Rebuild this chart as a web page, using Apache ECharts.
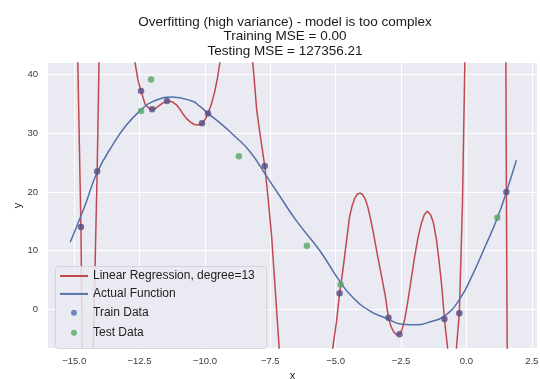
<!DOCTYPE html>
<html>
<head>
<meta charset="utf-8">
<title>Overfitting</title>
<script src="https://cdn.jsdelivr.net/npm/echarts@6/dist/echarts.min.js"></script>
<style>
  body { margin: 0; background: #fff; }
  #main { width: 540px; height: 379px; }
</style>
</head>
<body>
<div id="main"></div>
<script>
// values
var trainX = [-14.74, -14.12, -12.44, -12.02, -11.45, -10.11, -9.88, -7.71, -4.85, -2.98, -2.56, -0.84, -0.27, 1.53];
var trainY = [14.0, 23.5, 37.2, 34.1, 35.5, 31.7, 33.4, 24.4, 2.7, -1.5, -4.3, -1.7, -0.7, 20.0];

var testX = [-12.06, -12.44, -8.70, -6.10, -4.81, 1.18];
var testY = [39.2, 33.8, 26.1, 10.8, 4.2, 15.6];

// actual function
var trueX = [-15.15, -14.6, -14.12, -13.5, -13.0, -12.44, -12.0, -11.26, -10.5, -10.19, -9.88, -9.4, -8.93, -8.28, -7.63, -7.14, -6.49, -5.61, -4.85, -4.35, -3.7, -3.05, -2.44, -1.9, -1.41, -0.84, -0.27, 0.23, 0.7, 1.18, 1.53, 1.91];
var trueY = [11.4, 17.5, 23.3, 28.2, 31.4, 34.0, 35.4, 36.2, 35.5, 34.6, 33.4, 31.7, 29.8, 26.9, 22.6, 19.3, 15.0, 10.0, 4.8, 2.0, -0.3, -1.6, -2.6, -2.7, -2.2, -1.2, 1.6, 5.8, 10.5, 15.5, 20.0, 25.4];

// degree-13 fit (values past the frame are clipped)
var fitX = [-15.0, -14.86, -14.74, -14.69, -14.5, -14.27, -14.12, -14.05, -13.4,
  -12.67, -12.56, -12.44, -12.29, -12.15, -12.02, -11.9, -11.79, -11.6, -11.45, -11.26, -11.1, -10.95, -10.84, -10.7, -10.55, -10.4, -10.25, -10.11, -10.0, -9.88, -9.75, -9.62, -9.52, -9.43,
  -8.8, -8.17, -8.1, -8.02, -7.88, -7.71, -7.58, -7.45, -7.16, -6.1,
  -5.11, -4.96, -4.85, -4.75, -4.66, -4.56, -4.47, -4.37, -4.27, -4.17, -4.08, -3.98, -3.88, -3.78, -3.68, -3.57, -3.46, -3.35, -3.24, -3.1, -2.98, -2.88, -2.78, -2.67, -2.56, -2.47, -2.36, -2.25, -2.12, -1.98, -1.85, -1.72, -1.61, -1.49, -1.37, -1.26, -1.15, -1.05, -0.94, -0.84, -0.72,
  -0.55, -0.38, -0.27, -0.15, -0.06, 0.7, 1.45, 1.51, 1.53, 1.56, 1.7];
var fitY = [110, 42, 14.0, -8, -60, -6.6, 23.5, 42, 120,
  42, 39.1, 37.2, 35.0, 34.3, 34.1, 34.2, 34.6, 35.2, 35.5, 35.4, 34.9, 34.1, 33.3, 32.5, 31.9, 31.5, 31.4, 31.7, 32.3, 33.4, 35.0, 37.2, 39.4, 42,
  70, 42, 38.5, 34.0, 29.5, 24.4, 18.8, 12.5, -6.6, -60,
  -6.6, -1.9, 2.7, 5.8, 8.9, 12.5, 15.7, 17.6, 18.9, 19.6, 19.8, 19.6, 18.9, 17.6, 15.7, 13.3, 10.6, 8.0, 5.5, 2.2, -1.5, -3.0, -3.9, -4.4, -4.3, -3.6, -1.8, 1.0, 4.8, 8.9, 12.2, 14.7, 16.1, 16.7, 16.1, 14.7, 12.0, 8.4, 3.8, -1.7, -6.6,
  -40, -6.6, -0.7, 18, 42, 200, 200, 42, 20.0, -6.6, -80];

var xTicks = [-15, -12.5, -10, -7.5, -5, -2.5, 0, 2.5];
var yTicks = [0, 10, 20, 30, 40];

function pairs(xs, ys) {
  return xs.map(function (x, i) { return [x, ys[i]]; });
}
function fmtX(v) { return v.toFixed(1).replace('-', '\u2212'); }
function fmtY(v) { return String(v).replace('-', '\u2212'); }

var font = 'Liberation Sans, Arial, sans-serif';
// small dot centred in a 28x14 box (the lone moves fix the box size)
var dotIcon = 'path://M0,0M28,14M11,7a3,3 0 1,0 6,0a3,3 0 1,0 -6,0Z';

var chart = echarts.init(document.getElementById('main'), null, { renderer: 'canvas' });

chart.setOption({
  animation: false,
  backgroundColor: '#ffffff',
  title: {
    text: 'Overfitting (high variance) - model is too complex\nTraining MSE = 0.00\nTesting MSE = 127356.21',
    left: 285,
    top: 15,
    textAlign: 'center',
    padding: 0,
    textStyle: { fontFamily: font, fontSize: 13.5, fontWeight: 'normal', color: '#1a1a1a', lineHeight: 14.5 }
  },
  grid: {
    left: 48, right: 3, top: 63, bottom: 31,
    outerBoundsMode: 'none',
    containLabel: false,
    show: true, backgroundColor: '#eaeaf2', borderWidth: 0
  },
  graphic: [{
    type: 'rect',
    left: 55, top: 266, z: 5,
    shape: { width: 211, height: 82, r: 3 },
    style: { fill: 'rgba(234,234,242,0.85)', stroke: '#d4d4dc', lineWidth: 1 }
  }],
  legend: {
    data: [
      { name: 'Linear Regression, degree=13', itemStyle: { opacity: 0 } },
      { name: 'Actual Function', itemStyle: { opacity: 0 } },
      { name: 'Train Data', icon: dotIcon, itemStyle: { color: '#4c72b0' } },
      { name: 'Test Data', icon: dotIcon, itemStyle: { color: '#55a868' } }
    ],
    orient: 'vertical',
    left: 59, top: 270, z: 6,
    padding: 0,
    itemWidth: 28, itemHeight: 14, itemGap: 5.9,
    textStyle: { fontFamily: font, fontSize: 12, color: '#222' }
  },
  xAxis: {
    type: 'value',
    min: -16.0, max: 2.7,
    name: 'x', nameLocation: 'middle', nameGap: 21,
    nameTextStyle: { fontFamily: font, fontSize: 11, color: '#222' },
    axisLine: { show: false },
    axisTick: { show: false, customValues: xTicks },
    axisLabel: { customValues: xTicks, formatter: fmtX, margin: 8, fontFamily: font, fontSize: 9.5, color: '#3a3a3a' },
    splitLine: { show: true, lineStyle: { color: '#ffffff', width: 1 } }
  },
  yAxis: {
    type: 'value',
    min: -6.65, max: 42,
    name: 'y', nameLocation: 'middle', nameGap: 25,
    nameMoveOverlap: false,
    nameTextStyle: { fontFamily: font, fontSize: 11, color: '#222' },
    axisLine: { show: false },
    axisTick: { show: false, customValues: yTicks },
    axisLabel: { customValues: yTicks, formatter: fmtY, margin: 10, fontFamily: font, fontSize: 9.5, color: '#3a3a3a' },
    splitLine: { show: true, lineStyle: { color: '#ffffff', width: 1 } }
  },
  series: [{
    name: 'Linear Regression, degree=13',
    type: 'line',
    data: pairs(fitX, fitY),
    symbol: 'none',
    smooth: false,
    clip: true,
    color: '#c44e52',
    lineStyle: { color: '#c0494f', width: 1.5 },
    z: 2
  }, {
    name: 'Actual Function',
    type: 'line',
    data: pairs(trueX, trueY),
    symbol: 'none',
    smooth: true,
    clip: true,
    color: '#4c72b0',
    lineStyle: { color: '#5470a6', width: 1.5 },
    z: 3
  }, {
    name: 'Train Data',
    type: 'scatter',
    data: pairs(trainX, trainY),
    symbolSize: 6.5,
    itemStyle: { color: '#544b80' },
    z: 4
  }, {
    name: 'Test Data',
    type: 'scatter',
    data: pairs(testX, testY),
    symbolSize: 6.5,
    itemStyle: { color: '#55a868' },
    z: 4
  }]
});
</script>
</body>
</html>
